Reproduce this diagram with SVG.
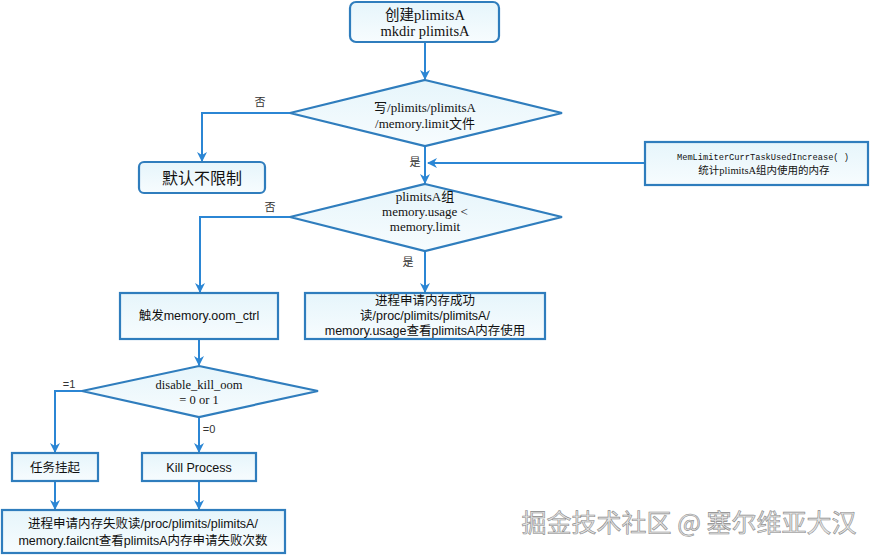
<svg xmlns="http://www.w3.org/2000/svg" width="874" height="556" viewBox="0 0 874 556">
<defs>
<linearGradient id="g" x1="0" y1="0" x2="0" y2="1">
<stop offset="0" stop-color="#e6f5fb"/>
<stop offset="1" stop-color="#f7fcfe"/>
</linearGradient>
<marker id="ah" markerWidth="10" markerHeight="10" refX="9" refY="5" orient="auto" markerUnits="userSpaceOnUse">
<path d="M0,0 L10,5 L0,10 L3,5 Z" fill="#2b86d4"/>
</marker>
</defs>
<style>
.n{fill:url(#g);stroke:#2f7dbd;stroke-width:2.2}
.c{fill:none;stroke:#2b86d4;stroke-width:2;marker-end:url(#ah)}
.s{font-family:"Liberation Serif","Noto Sans CJK SC",serif;font-size:13px;fill:#111;text-anchor:middle}
.a{font-family:"Liberation Sans","Noto Sans CJK SC",sans-serif;font-size:12.5px;fill:#111;text-anchor:middle}
.l{font-family:"Liberation Sans","Noto Sans CJK SC",sans-serif;font-size:11px;fill:#333;text-anchor:middle}
.m{font-family:"Liberation Mono","Noto Sans CJK SC",monospace;font-size:8.7px;fill:#111;text-anchor:middle}
</style>
<rect width="874" height="556" fill="#fff"/>
<g id="connectors">
<path class="c" d="M425,42 V79"/>
<path class="c" d="M290,113 H202 V161"/>
<path class="c" d="M425,146 V183"/>
<path class="c" d="M645,163 H428"/>
<path class="c" d="M290,217 H200 V292"/>
<path class="c" d="M425,251 V292"/>
<path class="c" d="M199,339 V365"/>
<path class="c" d="M82,391 H55 V452"/>
<path class="c" d="M199,417 V452"/>
<path class="c" d="M55,481 V509"/>
<path class="c" d="M199,481 V509"/>
<text class="l" x="260" y="106">否</text>
<text class="l" x="415" y="166">是</text>
<text class="l" x="270" y="211">否</text>
<text class="l" x="408" y="266">是</text>
<text class="l" x="69" y="388">=1</text>
<text class="l" x="209" y="433">=0</text>
</g>
<g id="n1">
<rect class="n" x="350" y="2" width="149" height="40" rx="6"/>
<text class="s" x="425" y="20" style="font-size:14.5px">创建plimitsA</text>
<text class="s" x="425" y="36" style="font-size:14.5px">mkdir plimitsA</text>
</g>
<g id="d1">
<polygon class="n" points="425,80 562,113 425,146 290,113"/>
<text class="s" x="425" y="112">写/plimits/plimitsA</text>
<text class="s" x="425" y="128">/memory.limit文件</text>
</g>
<g id="n2">
<rect class="n" x="139" y="162" width="126" height="31" rx="5"/>
<text class="a" x="202" y="184" style="font-size:16px">默认不限制</text>
</g>
<g id="n3">
<rect class="n" x="645" y="142" width="223" height="43"/>
<text class="m" x="763" y="160">MemLimiterCurrTaskUsedIncrease( )</text>
<text class="s" x="764" y="174" style="font-size:10.5px">统计plimitsA组内使用的内存</text>
</g>
<g id="d2">
<polygon class="n" points="425,184 562,217 425,251 290,217"/>
<text class="s" x="425" y="201">plimitsA组</text>
<text class="s" x="425" y="216">memory.usage  &lt;</text>
<text class="s" x="425" y="231">memory.limit</text>
</g>
<g id="n4">
<rect class="n" x="120" y="293" width="158" height="46"/>
<text class="a" x="199" y="320">触发memory.oom_ctrl</text>
</g>
<g id="n5">
<rect class="n" x="305" y="293" width="240" height="46"/>
<text class="a" x="425" y="305">进程申请内存成功</text>
<text class="a" x="425" y="320">读/proc/plimits/plimitsA/</text>
<text class="a" x="425" y="335">memory.usage查看plimitsA内存使用</text>
</g>
<g id="d3">
<polygon class="n" points="199,366 318,391 199,417 82,391"/>
<text class="s" x="199" y="389" style="font-size:12.5px">disable_kill_oom</text>
<text class="s" x="199" y="404" style="font-size:12.5px">= 0 or 1</text>
</g>
<g id="n6">
<rect class="n" x="12" y="453" width="86" height="28"/>
<text class="a" x="55" y="472">任务挂起</text>
</g>
<g id="n7">
<rect class="n" x="142" y="453" width="114" height="28"/>
<text class="a" x="199" y="472">Kill Process</text>
</g>
<g id="n8">
<rect class="n" x="2" y="510" width="283" height="43"/>
<text class="a" x="143" y="528">进程申请内存失败读/proc/plimits/plimitsA/</text>
<text class="a" x="143" y="545">memory.failcnt查看plimitsA内存申请失败次数</text>
</g>
<text x="689" y="532" font-family="'Noto Sans CJK SC',sans-serif" font-size="25" fill="#e4e4e4" stroke="#8a8a8a" stroke-width="0.6" text-anchor="middle">掘金技术社区 @ 塞尔维亚大汉</text>
</svg>
